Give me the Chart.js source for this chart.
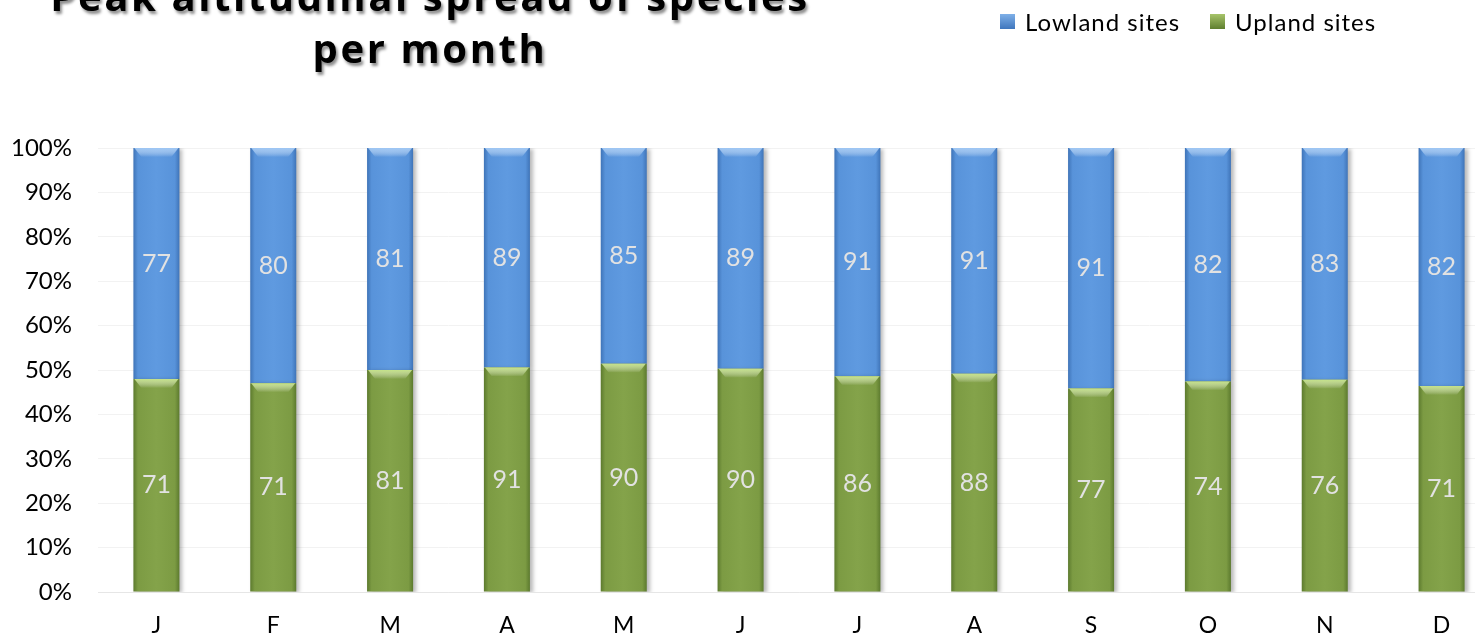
<!DOCTYPE html>
<html>
<head>
<meta charset="utf-8">
<script src="https://cdn.jsdelivr.net/npm/chart.js@4"></script>
<style>
  html, body { margin: 0; padding: 0; background: #fff; overflow: hidden; }
  #wrap { position: relative; width: 1475px; height: 638px; overflow: hidden; }
  #chart-box { position: absolute; left: 0; top: 0; width: 1500px; height: 638px; }
  #title {
    position: absolute; left: -20px; width: 900px; top: -30px;
    text-align: center; font-family: "Open Sans", sans-serif; font-weight: bold;
    font-size: 40px; line-height: 52px; letter-spacing: 2.6px; color: #000; white-space: nowrap;
    text-shadow: 2px 3px 3px rgba(0,0,0,0.45);
  }
  #legend {
    position: absolute; top: 7px; left: 1000px; font-family: Lato, "Open Sans", sans-serif;
    font-size: 24px; letter-spacing: 1px; color: #000; display: flex; align-items: center; white-space: nowrap;
  }
  .sw { display: inline-block; width: 15px; height: 15px; margin-right: 10px; }
  .item { display: flex; align-items: center; margin-right: 30px; }
</style>
</head>
<body>
<div id="wrap">
  <div id="chart-box"><canvas id="c" width="1500" height="638"></canvas></div>
  <div id="title">Peak altitudinal spread of species<br>per month</div>
  <div id="legend">
    <span class="item"><span class="sw" style="background:linear-gradient(#7fb0e8,#3f76bd)"></span>Lowland sites</span>
    <span class="item"><span class="sw" style="background:linear-gradient(#a7c46a,#5f7f2f)"></span>Upland sites</span>
  </div>
</div>
<script>
// datos
const months = ["J", "F", "M", "A", "M", "J", "J", "A", "S", "O", "N", "D"];
const lowland = [77, 80, 81, 89, 85, 89, 91, 91, 91, 82, 83, 82];
const upland = [71, 71, 81, 91, 90, 90, 86, 88, 77, 74, 76, 71];
const yTicks = [0, 10, 20, 30, 40, 50, 60, 70, 80, 90, 100];

// porcentajes para el grafico 100% apilado
const uplandPct = upland.map((v, i) => v / (v + lowland[i]) * 100);
const lowlandPct = lowland.map((v, i) => v / (v + upland[i]) * 100);

const BAR_PCT = 0.394;

// degradado horizontal tipo bisel
function bevel(edge, mid, light) {
    return (c) => {
        const chart = c.chart;
        const xs = chart.scales.x;
        if (!xs || !chart.chartArea) return mid;
        const cx = xs.getPixelForValue(c.dataIndex);
        const w = (xs.width / months.length) * BAR_PCT;
        const g = chart.ctx.createLinearGradient(cx - w / 2, 0, cx + w / 2, 0);
        g.addColorStop(0, edge);
        g.addColorStop(0.1, mid);
        g.addColorStop(0.5, light);
        g.addColorStop(0.9, mid);
        g.addColorStop(1, edge);
        return g;
    };
}

// sombra y brillo superior de cada segmento
const barFx = {
    id: "barFx",
    beforeDatasetsDraw(chart) {
        const ctx = chart.ctx;
        ctx.save();
        ctx.shadowColor = "rgba(0,0,0,0.28)";
        ctx.shadowOffsetX = 3;
        ctx.shadowOffsetY = 1;
        ctx.shadowBlur = 4;
    },
    afterDatasetsDraw(chart) {
        const ctx = chart.ctx;
        ctx.restore();
        const tops = ["rgba(200,230,140,0.95)", "rgba(160,200,245,0.95)"];
        chart.data.datasets.forEach((ds, di) => {
            const meta = chart.getDatasetMeta(di);
            meta.data.forEach((bar) => {
                const x0 = bar.x - bar.width / 2 + 1, x1 = bar.x + bar.width / 2 - 1;
                const y = bar.y, h = 9;
                const g = ctx.createLinearGradient(0, y, 0, y + h);
                g.addColorStop(0, tops[di]);
                g.addColorStop(1, "rgba(255,255,255,0)");
                ctx.save();
                ctx.fillStyle = g;
                ctx.beginPath();
                ctx.moveTo(x0, y);
                ctx.lineTo(x1, y);
                ctx.lineTo(x1 - 7, y + h);
                ctx.lineTo(x0 + 7, y + h);
                ctx.closePath();
                ctx.fill();
                ctx.restore();
            });
        });

        // etiquetas dentro de cada segmento
        ctx.save();
        ctx.font = "25px Lato, 'Open Sans', sans-serif";
        ctx.fillStyle = "#e2e2e2";
        ctx.textAlign = "center";
        ctx.textBaseline = "middle";
        chart.data.datasets.forEach((ds, di) => {
            const meta = chart.getDatasetMeta(di);
            meta.data.forEach((bar, i) => {
                ctx.fillText(ds.raw[i], bar.x, (bar.y + bar.base) / 2);
            });
        });
        ctx.restore();
    }
};

const chart = new Chart(document.getElementById("c"), {
    type: "bar",
    data: {
        labels: months,
        datasets: [
            {
                label: "Upland sites",
                data: uplandPct,
                raw: upland,
                backgroundColor: bevel("#5c7a2e", "#7c9b43", "#84a34a"),
                borderWidth: 0
            },
            {
                label: "Lowland sites",
                data: lowlandPct,
                raw: lowland,
                backgroundColor: bevel("#3f74b8", "#5893da", "#5f9ae0"),
                borderWidth: 0
            }
        ]
    },
    options: {
        responsive: false,
        animation: false,
        layout: { padding: { top: 148, right: 0, left: 0, bottom: 0 } },
        plugins: {
            legend: { display: false },
            title: { display: false },
            tooltip: { enabled: false }
        },
        datasets: {
            bar: { categoryPercentage: 1, barPercentage: BAR_PCT }
        },
        scales: {
            x: {
                stacked: true,
                grid: { display: false, drawTicks: false },
                border: { color: "#e6e6e6" },
                ticks: {
                    color: "#000", padding: 20,
                    font: { family: "Lato, 'Open Sans', sans-serif", size: 23 }
                },
                afterFit(scale) { scale.height = 46; }
            },
            y: {
                stacked: true,
                min: 0, max: 100,
                afterBuildTicks(scale) { scale.ticks = yTicks.map(v => ({ value: v })); },
                grid: { color: "#f2f2f2", drawTicks: false },
                border: { display: false },
                ticks: {
                    color: "#000", padding: 26,
                    font: { family: "Lato, 'Open Sans', sans-serif", size: 24 },
                    callback: v => v + "%"
                },
                afterFit(scale) { scale.width = 98; }
            }
        }
    },
    plugins: [barFx]
});
chart.update();
</script>
</body>
</html>
